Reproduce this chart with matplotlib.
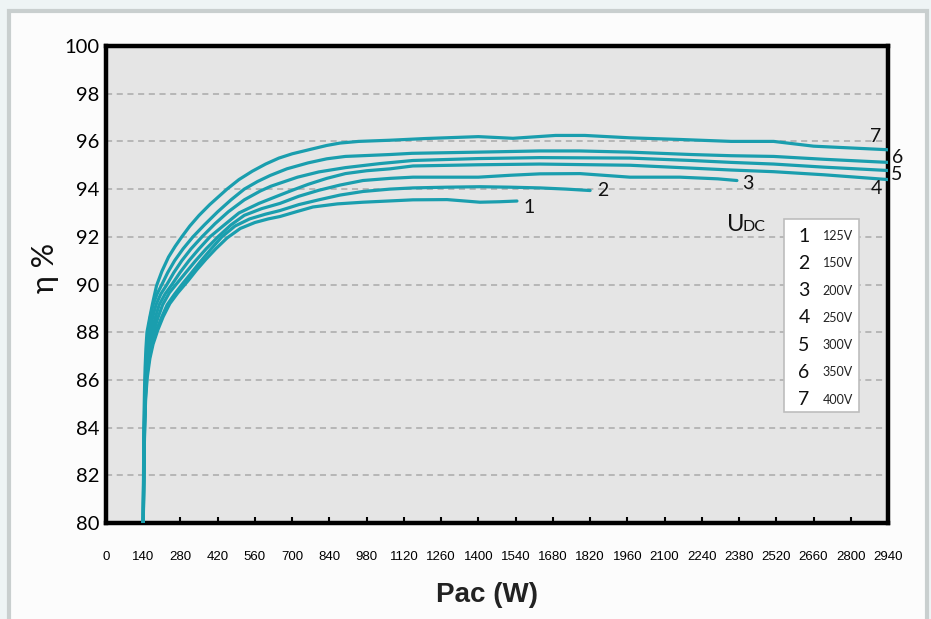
import matplotlib
matplotlib.use("Agg")
import matplotlib.pyplot as plt
from matplotlib.patches import Rectangle

# Efficiency curves: Pac (W) -> eta (%)
p_125 = [140, 141, 142.5, 144, 146, 149, 155, 165, 177, 195, 215, 240, 270, 308, 340, 375, 413, 455, 505,
         560, 610, 654, 715, 778, 870, 966, 1060, 1154, 1282, 1350, 1406, 1480, 1545]
e_125 = [80.0, 80.7, 82.0, 83.2, 84.2, 85.2, 86.1, 86.9, 87.5, 88.1, 88.65, 89.2, 89.65, 90.15, 90.6, 91.05, 91.5, 91.95, 92.35,
         92.6, 92.75, 92.85, 93.05, 93.25, 93.38, 93.45, 93.5, 93.55, 93.56, 93.5, 93.45, 93.47, 93.5]

p_150 = [140, 141, 142.5, 144, 146, 149, 154, 162, 175, 192, 210, 230, 258, 289, 322, 358, 396, 436, 485,
         540, 600, 654, 725, 800, 880, 966, 1068, 1154, 1280, 1406, 1520, 1632, 1730, 1820]
e_150 = [80.0, 80.8, 82.2, 83.4, 84.4, 85.4, 86.2, 86.9, 87.55, 88.15, 88.65, 89.15, 89.6, 90.05, 90.5, 91.0, 91.5, 92.0, 92.45,
         92.75, 92.95, 93.1, 93.35, 93.55, 93.75, 93.9, 94.0, 94.05, 94.08, 94.1, 94.08, 94.05, 94.0, 93.94]

p_200 = [140, 141, 142.5, 144, 146, 149, 153, 160, 170, 180, 195, 213, 238, 267, 300, 337, 377, 421, 470,
         520, 585, 654, 725, 800, 880, 966, 1068, 1154, 1280, 1400, 1520, 1632, 1782, 1970, 2158, 2300, 2372]
e_200 = [80.0, 81.0, 82.4, 83.6, 84.6, 85.6, 86.4, 87.1, 87.65, 88.05, 88.6, 89.15, 89.65, 90.05, 90.5, 91.0, 91.5, 92.0, 92.5,
         92.9, 93.18, 93.4, 93.7, 93.95, 94.17, 94.36, 94.45, 94.5, 94.5, 94.5, 94.58, 94.64, 94.65, 94.5, 94.5, 94.43, 94.36]

p_250 = [140, 141, 142.5, 144, 146, 149, 153, 159, 165, 173, 185, 200, 222, 248, 278, 312, 350, 391, 445,
         500, 575, 654, 700, 760, 830, 900, 980, 1068, 1154, 1400, 1630, 1970, 2200, 2350, 2510, 2700, 2940]
e_250 = [80.0, 81.2, 82.6, 83.8, 84.8, 85.8, 86.6, 87.2, 87.6, 88.05, 88.6, 89.15, 89.6, 90.0, 90.5, 91.0, 91.5, 92.0, 92.5,
         93.0, 93.4, 93.75, 93.95, 94.2, 94.45, 94.65, 94.77, 94.85, 94.97, 95.02, 95.05, 95.0, 94.88, 94.8, 94.73, 94.6, 94.4]

p_300 = [140, 141, 142.5, 144, 146, 149, 153, 158, 165, 175, 188, 206, 229, 255, 285, 320, 361, 410, 460,
         520, 580, 620, 654, 720, 800, 900, 1030, 1154, 1400, 1630, 1970, 2200, 2350, 2510, 2700, 2940]
e_300 = [80.0, 81.3, 82.8, 84.0, 85.0, 86.0, 86.9, 87.5, 88.0, 88.6, 89.15, 89.6, 90.0, 90.5, 91.0, 91.5, 92.0, 92.55, 93.05,
         93.55, 93.92, 94.12, 94.25, 94.5, 94.72, 94.9, 95.07, 95.2, 95.28, 95.32, 95.3, 95.2, 95.12, 95.05, 94.92, 94.78]

p_350 = [140, 141, 142.5, 144, 146, 149, 153, 158, 166, 177, 192, 210, 232, 258, 290, 327, 370, 420, 470,
         520, 570, 617, 680, 760, 830, 900, 1068, 1150, 1400, 1630, 1780, 1970, 2200, 2350, 2510, 2700, 2940]
e_350 = [80.0, 81.5, 83.0, 84.2, 85.3, 86.3, 87.3, 88.0, 88.6, 89.15, 89.6, 90.0, 90.5, 91.0, 91.5, 92.0, 92.5, 93.05, 93.55,
         94.0, 94.32, 94.57, 94.85, 95.1, 95.27, 95.37, 95.45, 95.5, 95.55, 95.6, 95.6, 95.55, 95.45, 95.4, 95.37, 95.25, 95.12]

p_400 = [140, 141, 142, 143.5, 145, 147, 150, 154, 165, 175, 190, 210, 235, 260, 285, 315, 350, 390, 430,
         455, 500, 550, 600, 650, 700, 770, 830, 880, 950, 1070, 1200, 1400, 1530, 1690, 1800, 1970, 2160, 2350, 2510, 2660, 2940]
e_400 = [80.0, 82.0, 83.5, 84.8, 85.7, 86.5, 87.3, 88.0, 88.65, 89.2, 89.95, 90.55, 91.15, 91.6, 92.0, 92.45, 92.9, 93.35, 93.75,
         94.0, 94.4, 94.75, 95.05, 95.3, 95.48, 95.67, 95.83, 95.93, 96.0, 96.05, 96.12, 96.2, 96.13, 96.25, 96.25, 96.15, 96.08, 96.0, 96.0, 95.8, 95.65]

curve_ids = ["1", "2", "3", "4", "5", "6", "7"]
voltages = ["125V", "150V", "200V", "250V", "300V", "350V", "400V"]
# where the curve numbers sit (data coords)
label_x = [1590, 1868, 2413, 2895, 2974, 2977, 2895]
label_y = [93.22, 93.94, 94.23, 94.02, 94.6, 95.33, 96.2]

x_ticks = list(range(0, 2941, 140))
y_ticks = list(range(80, 101, 2))

teal = "#1a9eae"

fig = plt.figure(figsize=(9.31, 6.19), dpi=100, facecolor="#eef4f5")
W, H = 931, 619

# outer panel frame
fig.patches.append(Rectangle((9 / W, -0.05), 918 / W, (H - 11) / H + 0.05,
                             transform=fig.transFigure, facecolor="#fcfcfc",
                             edgecolor="#c9cfcf", linewidth=3, zorder=-5))

ax = fig.add_axes([106 / W, 1 - 523 / H, (888 - 106) / W, (523 - 46) / H])
ax.set_facecolor("#e5e5e5")
for s in ax.spines.values():
    s.set_linewidth(3.2)
    s.set_color("black")

series = [(p_125, e_125), (p_150, e_150), (p_200, e_200), (p_250, e_250),
          (p_300, e_300), (p_350, e_350), (p_400, e_400)]
for px, ey in series:
    ax.plot(px, ey, color=teal, lw=2.3, solid_capstyle="round",
            solid_joinstyle="round", zorder=3)

ax.set_xlim(0, 2940)
ax.set_ylim(80, 100)
ax.set_xticks(x_ticks)
ax.set_xticklabels([str(v) for v in x_ticks], family="Liberation Sans", fontsize=9.5)
ax.set_yticks(y_ticks)
ax.set_yticklabels([str(v) for v in y_ticks], family="Lato", fontsize=14.5)
ax.tick_params(axis="x", direction="in", length=4, width=1.5, pad=20)
ax.tick_params(axis="y", length=0, pad=5)
ax.yaxis.grid(True, linestyle=(0, (4, 3)), color="#aaaaaa", lw=1.1)
ax.set_axisbelow(True)

for name, lx, ly in zip(curve_ids, label_x, label_y):
    ax.text(lx, ly, name, family="Lato", fontsize=14, ha="center", va="center",
            color="#111111", clip_on=False, zorder=5)

# U_DC legend
ax.text((727 - 106) / 0.266, 100 - (233 - 48) / 23.85, "U", family="Lato",
        fontsize=17, ha="left", va="baseline", color="#111111")
ax.text((743 - 106) / 0.266, 100 - (233 - 48) / 23.85, "DC", family="Lato",
        fontsize=11.5, ha="left", va="baseline", color="#111111")

box = Rectangle((784 / W, 1 - 412 / H), 75 / W, 193 / H, transform=fig.transFigure,
                facecolor="white", edgecolor="#bdbdbd", lw=1.2, zorder=4)
fig.patches.append(box)
for i, (name, volt) in enumerate(zip(curve_ids, voltages)):
    yy = 1 - (236 + i * 27.3) / H
    fig.text(804 / W, yy, name, family="Lato", fontsize=14, ha="center", va="center",
             color="#111111", zorder=5)
    fig.text(838 / W, yy, volt, family="Lato", fontsize=9, ha="center", va="center",
             color="#222222", zorder=5)

fig.text(45 / W, 1 - 268 / H, "η %", family="Lato", fontsize=22, rotation=90,
         ha="center", va="center", color="#111111")
fig.text(487 / W, 1 - 595 / H, "Pac (W)", family="Liberation Sans", fontsize=20,
         fontweight="bold", ha="center", va="center", color="#222222")

fig.savefig("out.png", dpi=100, facecolor=fig.get_facecolor())
